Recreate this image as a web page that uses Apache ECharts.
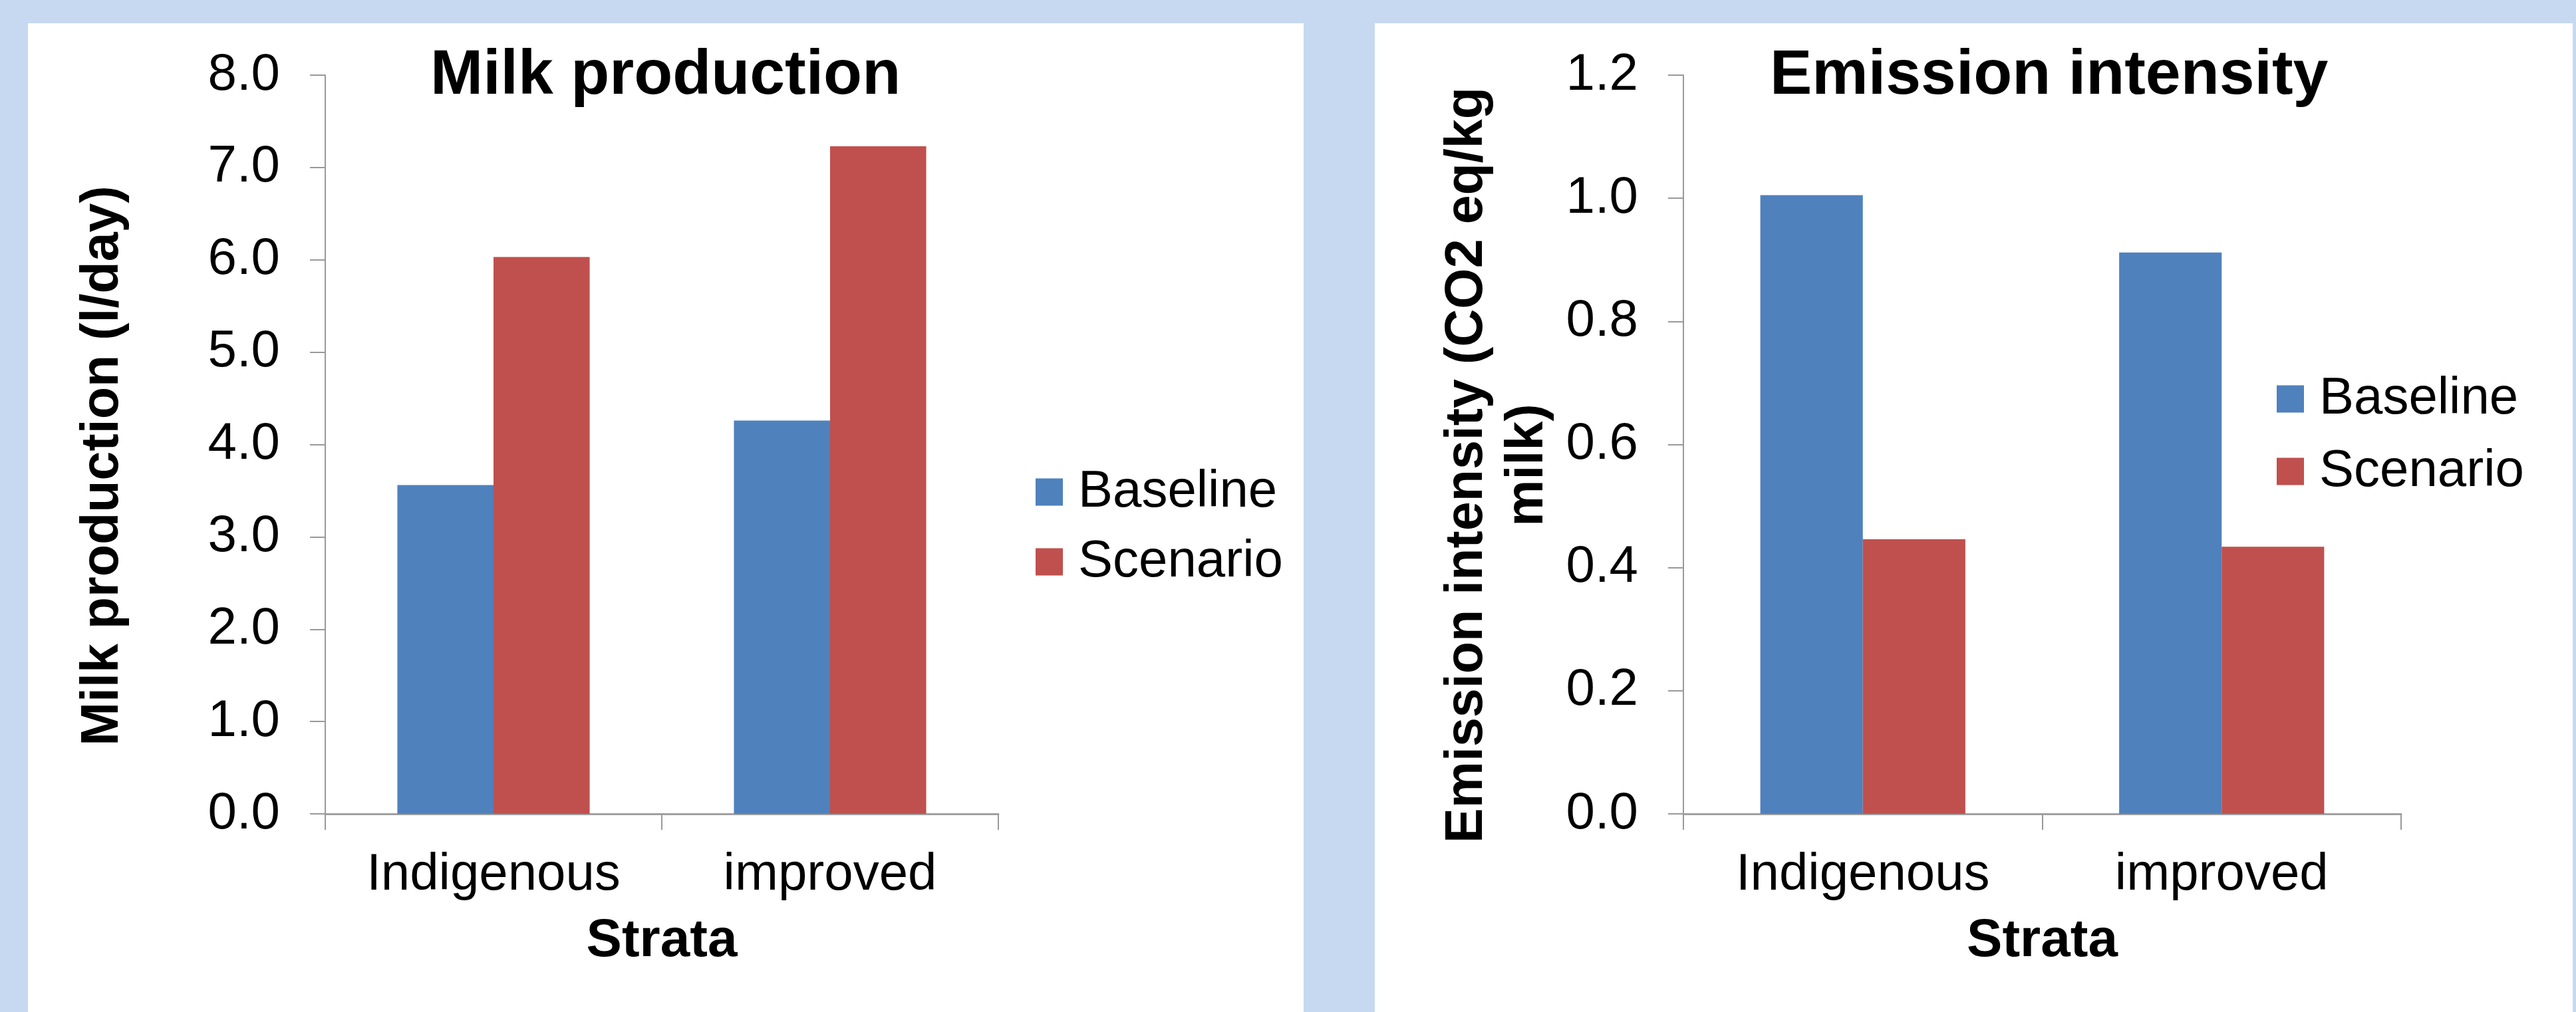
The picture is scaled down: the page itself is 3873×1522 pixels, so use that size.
<!DOCTYPE html>
<html>
<head>
<meta charset="utf-8">
<script src="https://cdn.jsdelivr.net/npm/echarts@6/dist/echarts.min.js"></script>
<style>
html,body{margin:0;padding:0;background:#C6D9F0;}
#chart{width:3873px;height:1522px;}
</style>
</head>
<body>
<div id="chart"></div>
<script>
const categories = ['Indigenous', 'improved'];
const seriesNames = ['Baseline', 'Scenario'];
const milkBaseline = [3.56, 4.26];
const milkScenario = [6.03, 7.23];
const emisBaseline = [1.005, 0.912];
const emisScenario = [0.446, 0.434];
const milkTicks = {min: 0, max: 8, interval: 1};
const emisTicks = {min: 0, max: 1.2, interval: 0.2};
const titles = ['Milk production', 'Emission intensity'];
const yNames = ['Milk production (l/day)', 'Emission intensity (CO2 eq/kg\nmilk)'];
const xName = 'Strata';

const FONT = "'Liberation Sans', Arial, sans-serif";
const BLUE = '#4F81BD', RED = '#C0504D';

const chart = echarts.init(document.getElementById('chart'), null, {renderer: 'canvas'});

function xAxisCfg(idx) {
  return {
    type: 'category', gridIndex: idx, data: categories,
    boundaryGap: true,
    axisLine: {lineStyle: {color: '#A0A0A0', width: 3}},
    axisTick: {show: true, interval: 0, length: 24, lineStyle: {color: '#999999', width: 2}},
    axisLabel: {interval: 0, margin: 53, fontSize: 78, color: '#000', fontFamily: FONT, lineHeight: 78},
    name: xName, nameLocation: 'middle', nameGap: 152,
    nameTextStyle: {fontSize: 80, fontWeight: 'bold', color: '#000', fontFamily: FONT, lineHeight: 80}
  };
}
function yAxisCfg(idx, t, name, gap, pad, lh) {
  return {
    type: 'value', gridIndex: idx, min: t.min, max: t.max, interval: t.interval,
    splitLine: {show: false},
    axisLine: {show: true, lineStyle: {color: '#999999', width: 2}},
    axisTick: {show: true, length: 23, lineStyle: {color: '#999999', width: 2}},
    axisLabel: {margin: 68, fontSize: 78, color: '#000', fontFamily: FONT,
      formatter: v => v.toFixed(1)},
    name: name, nameLocation: 'middle', nameGap: gap, nameRotate: 90,
    nameTextStyle: {fontSize: 79, fontWeight: 'bold', color: '#000', fontFamily: FONT,
      lineHeight: lh, padding: pad}
  };
}
function legendCfg(idx, left, top, gap) {
  return {
    show: true, orient: 'vertical', left: left, top: top,
    data: seriesNames, icon: 'rect', itemWidth: 41, itemHeight: 41, itemGap: gap,
    padding: 0,
    textStyle: {fontSize: 78, color: '#000', fontFamily: FONT, lineHeight: 78, padding: [0, 0, 0, 18]},
    selectedMode: false
  };
}

const option = {
  backgroundColor: '#C6D9F0',
  animation: false,
  graphic: [
    {type: 'rect', shape: {x: 42, y: 35, width: 1918, height: 1487}, style: {fill: '#FFFFFF'}, z: -10, silent: true},
    {type: 'rect', shape: {x: 2067, y: 35, width: 1801, height: 1487}, style: {fill: '#FFFFFF'}, z: -10, silent: true}
  ],
  title: [
    {text: titles[0], left: 647, top: 67, padding: 0,
      textStyle: {fontSize: 95, fontWeight: 'bold', color: '#000', fontFamily: FONT}},
    {text: titles[1], left: 2661, top: 67, padding: 0,
      textStyle: {fontSize: 95, fontWeight: 'bold', color: '#000', fontFamily: FONT}}
  ],
  legend: [
    legendCfg(0, 1557, 701, 27),
    legendCfg(1, 3423, 561, 31)
  ],
  grid: [
    {left: 489, top: 113, width: 1012, height: 1111, containLabel: false},
    {left: 2531, top: 113, width: 1079, height: 1111, containLabel: false}
  ],
  xAxis: [xAxisCfg(0), xAxisCfg(1)],
  yAxis: [
    yAxisCfg(0, milkTicks, yNames[0], 294, [0, 64, 0, 0], 80),
    yAxisCfg(1, emisTicks, yNames[1], 188, [0, 62, 0, 0], 91)
  ],
  series: [
    {name: seriesNames[0], type: 'bar', xAxisIndex: 0, yAxisIndex: 0, data: milkBaseline,
      itemStyle: {color: BLUE}, barGap: '0%', barCategoryGap: '42.86%'},
    {name: seriesNames[1], type: 'bar', xAxisIndex: 0, yAxisIndex: 0, data: milkScenario,
      itemStyle: {color: RED}, barGap: '0%', barCategoryGap: '42.86%'},
    {name: seriesNames[0], type: 'bar', xAxisIndex: 1, yAxisIndex: 1, data: emisBaseline,
      itemStyle: {color: BLUE}, barGap: '0%', barCategoryGap: '42.86%'},
    {name: seriesNames[1], type: 'bar', xAxisIndex: 1, yAxisIndex: 1, data: emisScenario,
      itemStyle: {color: RED}, barGap: '0%', barCategoryGap: '42.86%'}
  ]
};
chart.setOption(option);
</script>
</body>
</html>
